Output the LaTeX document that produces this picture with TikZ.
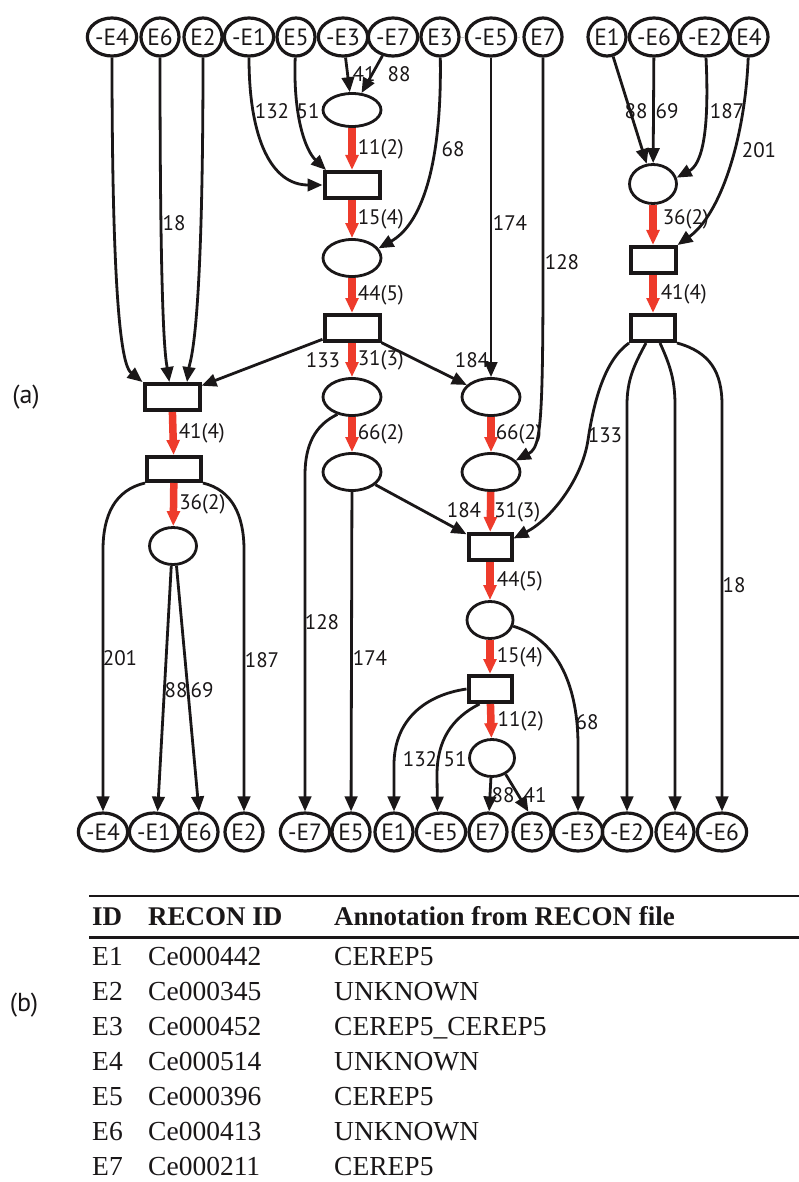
\documentclass[tikz,border=0pt]{standalone}
\usepackage{fontspec}
\setsansfont{PT Sans}
\newfontfamily\tabfont{Liberation Serif}
\usetikzlibrary{shapes.geometric,arrows.meta}
\definecolor{flowred}{HTML}{EE3B2B}
\definecolor{ink}{HTML}{1A1718}

\tikzset{
  evt/.style={ellipse, draw=ink, line width=3.2pt, inner sep=0.5pt,
    minimum width=38, minimum height=38, text=ink,
    font=\sffamily\fontsize{23.5}{25}\selectfont},
  place/.style={ellipse, draw=ink, line width=2.8pt, inner sep=0,
    minimum width=58, minimum height=37},
  trans/.style={rectangle, draw=ink, line width=4pt, inner sep=0,
    minimum width=55, minimum height=26},
  edgearc/.style={draw=ink, line width=2.8pt, -{Triangle[length=15pt,width=12.5pt]}},
  flow/.style={draw=flowred, line width=7.5pt, -{Triangle[length=15pt,width=12.5pt]}},
  lbl/.style={inner sep=0, text=ink, font=\sffamily\fontsize{21}{23}\selectfont},
  flbl/.style={lbl, anchor=west, xshift=2pt},
  tabtxt/.style={inner sep=0, anchor=base west, text=ink,
    font=\tabfont\fontsize{27.5}{30}\selectfont},
  tabhead/.style={tabtxt, font=\tabfont\bfseries\fontsize{27}{30}\selectfont},
  panel/.style={inner sep=0, text=ink, font=\sffamily\fontsize{26}{28}\selectfont},
}

\begin{document}
\begin{tikzpicture}[x=1pt,y=-1pt]
\fill[white] (0,0) rectangle (799,1182);
\useasboundingbox (0,0) rectangle (799,1182);

% panel letters
\node[panel] (pa) at (26,397) {(a)};
\node[panel] (pb) at (24,1005) {(b)};

% ---- input exchange nodes (top row)
\node[evt] (tE4m) at (112,37) {-E4};
\node[evt] (tE6)  at (160,37) {E6};
\node[evt] (tE2)  at (203,37) {E2};
\node[evt] (tE1m) at (249,37) {-E1};
\node[evt] (tE5)  at (296,37) {E5};
\node[evt] (tE3m) at (343,37) {-E3};
\node[evt] (tE7m) at (393,37) {-E7};
\node[evt] (tE3)  at (440,37) {E3};
\node[evt] (tE5m) at (491,37) {-E5};
\node[evt] (tE7)  at (543,37) {E7};
\node[evt] (tE1)  at (607,37) {E1};
\node[evt] (tE6m) at (654,37) {-E6};
\node[evt] (tE2m) at (705,37) {-E2};
\node[evt] (tE4)  at (749,37) {E4};

% ---- output exchange nodes (bottom row)
\node[evt] (bE4m) at (103,832) {-E4};
\node[evt] (bE1m) at (154,832) {-E1};
\node[evt] (bE6)  at (199,832) {E6};
\node[evt] (bE2)  at (244,832) {E2};
\node[evt] (bE7m) at (305,832) {-E7};
\node[evt] (bE5)  at (351,832) {E5};
\node[evt] (bE1)  at (394,832) {E1};
\node[evt] (bE5m) at (441,832) {-E5};
\node[evt] (bE7)  at (488,832) {E7};
\node[evt] (bE3)  at (532,832) {E3};
\node[evt] (bE3m) at (578,832) {-E3};
\node[evt] (bE2m) at (627,832) {-E2};
\node[evt] (bE4)  at (675,832) {E4};
\node[evt] (bE6m) at (722,832) {-E6};

% faint links in the top row
\draw[gray!45, line width=0.7pt, dashed] (tE3) -- (tE5m);
\draw[gray!45, line width=0.7pt, dashed] (tE5m) -- (tE7);

% ---- central chain
\node[place, minimum height=33] (p1) at (352,110) {};
\node[trans] (t1) at (352,185) {};
\node[place] (p2) at (352,258) {};
\node[trans] (t2) at (352,328) {};
\node[place] (p3) at (352,397) {};
\node[place] (p4) at (491,397) {};
\node[place] (p5) at (352,472) {};
\node[place] (p6) at (491,472) {};
\node[trans, minimum width=43] (t3) at (490,547) {};
\node[place, minimum width=46] (p7) at (490,620) {};
\node[trans, minimum width=43] (t4) at (490,689) {};
\node[place, minimum width=45] (p8) at (492,758) {};

% ---- left chain
\node[trans] (tl1) at (172,397) {};
\node[trans, minimum width=54, minimum height=24] (tl2) at (174,469) {};
\node[place, minimum width=47] (pl1) at (173,546) {};

% ---- right chain
\node[place, minimum width=47, minimum height=39] (pr) at (653,184) {};
\node[trans, minimum width=45] (tr1) at (653,260) {};
\node[trans, minimum width=44] (tr2) at (653,328) {};

% ---- main flow (red)
\draw[flow] (p1) -- node[flbl]{11(2)} (t1);
\draw[flow] (t1) -- node[flbl]{15(4)} (p2);
\draw[flow] (p2) -- node[flbl]{44(5)} (t2);
\draw[flow] (t2) -- node[flbl]{31(3)} (p3);
\draw[flow] (p3) -- node[flbl]{66(2)} (p5);
\draw[flow] (p4) -- node[flbl, xshift=-1pt]{66(2)} (p6);
\draw[flow] (p6) -- node[flbl, xshift=-2pt]{31(3)} (t3);
\draw[flow] (t3) -- node[flbl, xshift=1pt]{44(5)} (p7);
\draw[flow] (p7) -- node[flbl, xshift=1pt]{15(4)} (t4);
\draw[flow] (t4) -- node[flbl, xshift=1pt]{11(2)} (p8);
\draw[flow] (tl1) -- node[flbl]{41(4)} (tl2);
\draw[flow] (tl2) -- node[flbl]{36(2)} (pl1);
\draw[flow] (pr) -- node[flbl, pos=0.35, xshift=4pt]{36(2)} (tr1);
\draw[flow] (tr1) -- node[flbl, xshift=2pt]{41(4)} (tr2);

% ---- inputs into the central chain
\draw[edgearc] (tE3m) -- (p1);
\draw[edgearc] (tE7m) -- (p1);
\draw[edgearc] (tE1m) .. controls (249,140) and (272,185) .. (t1);
\draw[edgearc] (tE5) .. controls (293,115) and (305,150) .. (t1.150);
\draw[edgearc] (tE3) .. controls (442,170) and (420,225) .. (p2.20);
\draw[edgearc] (t2) -- (tl1);
\draw[edgearc] (t2) -- (p4);
\draw[edgearc] (tE5m) -- (p4);
\draw[edgearc] (tE7) .. controls (543,410) and (545,445) .. (p6.25);
\draw[edgearc] (p5) -- (t3);
\draw[edgearc] (tr2.south west) .. controls (605,360) and (594,400) .. (588,440)
                .. controls (582,480) and (550,520) .. (t3.20);

% ---- left chain inputs and outputs
\draw[edgearc] (tE4m) .. controls (112,340) and (125,368) .. (tl1.north west);
\draw[edgearc] (tE6) .. controls (160,340) and (166,360) .. (tl1.100);
\draw[edgearc] (tE2) .. controls (203,340) and (190,360) .. (tl1.45);
\draw[edgearc] (tl2.south west) .. controls (115,490) and (103,515) .. (103,550) -- (bE4m);
\draw[edgearc] (tl2.south east) .. controls (232,490) and (244,515) .. (244,550) -- (bE2);
\draw[edgearc] (pl1.265) -- (bE1m.80);
\draw[edgearc] (pl1.280) -- (bE6.north);

% ---- central chain outputs
\draw[edgearc] (p3.230) .. controls (315,425) and (305,445) .. (305,475) -- (bE7m);
\draw[edgearc] (p5) -- (bE5);
\draw[edgearc] (t4.west) .. controls (425,695) and (394,720) .. (394,765) -- (bE1);
\draw[edgearc] (t4.235) .. controls (452,718) and (437,740) .. (437,775) -- (bE5m.100);
\draw[edgearc] (p8) -- (bE7);
\draw[edgearc] (p8.-50) -- (bE3.100);
\draw[edgearc] (p7.-15) .. controls (560,640) and (578,690) .. (578,745) -- (bE3m);

% ---- right chain inputs and outputs
\draw[edgearc] (tE1) -- (pr);
\draw[edgearc] (tE6m) -- (pr);
\draw[edgearc] (tE2m) .. controls (710,140) and (700,165) .. (pr.15);
\draw[edgearc] (tE4) .. controls (745,140) and (720,215) .. (tr1.north east);
\draw[edgearc] (tr2.245) .. controls (634,365) and (627,380) .. (627,405) -- (bE2m);
\draw[edgearc] (tr2.295) .. controls (670,365) and (675,380) .. (675,405) -- (bE4);
\draw[edgearc] (tr2.south east) .. controls (710,352) and (722,372) .. (722,405) -- (bE6m);

% ---- arc weights
\node[lbl] (w41a)  at (364,74)  {41};
\node[lbl] (w88a)  at (399,74)  {88};
\node[lbl] (w132a) at (272,111) {132};
\node[lbl] (w51a)  at (308,111) {51};
\node[lbl] (w68a)  at (453,149) {68};
\node[lbl] (w18a)  at (174,223) {18};
\node[lbl] (w174a) at (510,223) {174};
\node[lbl] (w128a) at (562,262) {128};
\node[lbl] (w133a) at (323,360) {133};
\node[lbl] (w184a) at (472,360) {184};
\node[lbl] (w88b)  at (636,111) {88};
\node[lbl] (w69b)  at (667,111) {69};
\node[lbl] (w187b) at (727,111) {187};
\node[lbl] (w201b) at (759,150) {201};
\node[lbl] (w133b) at (605,435) {133};
\node[lbl] (w184b) at (464,510) {184};
\node[lbl] (w201c) at (120,658) {201};
\node[lbl] (w187c) at (262,660) {187};
\node[lbl] (w128c) at (322,622) {128};
\node[lbl] (w174c) at (370,658) {174};
\node[lbl] (w18c)  at (734,585) {18};
\node[lbl] (w88c)  at (176,690) {88};
\node[lbl] (w69c)  at (202,690) {69};
\node[lbl] (w132c) at (420,759) {132};
\node[lbl] (w51c)  at (455,759) {51};
\node[lbl] (w88d)  at (503,795) {88};
\node[lbl] (w41d)  at (535,795) {41};
\node[lbl] (w68d)  at (587,722) {68};

% ---- table (b)
\draw[ink, line width=2pt] (89,896) -- (799,896);
\draw[ink, line width=3pt] (89,937) -- (799,937);
\node[tabhead] (hid)  at (92,925)  {ID};
\node[tabhead] (hrec) at (148,925) {RECON ID};
\node[tabhead] (hann) at (334,925) {Annotation from RECON file};

\node[tabtxt] (r1a) at (92,965)  {E1};
\node[tabtxt] (r1b) at (148,965) {Ce000442};
\node[tabtxt] (r1c) at (334,965) {CEREP5};
\node[tabtxt] (r2a) at (92,1000)  {E2};
\node[tabtxt] (r2b) at (148,1000) {Ce000345};
\node[tabtxt] (r2c) at (334,1000) {UNKNOWN};
\node[tabtxt] (r3a) at (92,1035)  {E3};
\node[tabtxt] (r3b) at (148,1035) {Ce000452};
\node[tabtxt] (r3c) at (334,1035) {CEREP5\_CEREP5};
\node[tabtxt] (r4a) at (92,1070)  {E4};
\node[tabtxt] (r4b) at (148,1070) {Ce000514};
\node[tabtxt] (r4c) at (334,1070) {UNKNOWN};
\node[tabtxt] (r5a) at (92,1105)  {E5};
\node[tabtxt] (r5b) at (148,1105) {Ce000396};
\node[tabtxt] (r5c) at (334,1105) {CEREP5};
\node[tabtxt] (r6a) at (92,1140)  {E6};
\node[tabtxt] (r6b) at (148,1140) {Ce000413};
\node[tabtxt] (r6c) at (334,1140) {UNKNOWN};
\node[tabtxt] (r7a) at (92,1175)  {E7};
\node[tabtxt] (r7b) at (148,1175) {Ce000211};
\node[tabtxt] (r7c) at (334,1175) {CEREP5};
\end{tikzpicture}
\end{document}
